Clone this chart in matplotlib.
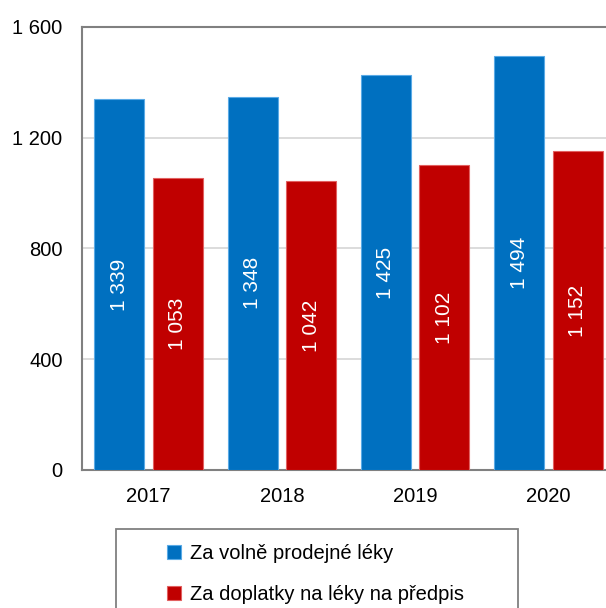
import numpy as np
import matplotlib.pyplot as plt
from matplotlib.patches import Rectangle

plt.rcParams['font.family'] = ['Liberation Sans', 'DejaVu Sans']

years = ['2017', '2018', '2019', '2020']
otc = [1339, 1348, 1425, 1494]          # Za volně prodejné léky
copay = [1053, 1042, 1102, 1152]        # Za doplatky na léky na předpis
series_names = ['Za volně prodejné léky', 'Za doplatky na léky na předpis']
yticks = [0, 400, 800, 1200, 1600]

def fmt(v):
    # czech style thousands separator (space)
    return '{:,}'.format(v).replace(',', ' ')

fig = plt.figure(figsize=(6.06, 6.08), dpi=100)
ax = fig.add_axes([0.1353, 0.2270, 0.8795, 0.7286])

x = np.arange(len(years))
w = 0.375
off = 0.22
b1 = ax.bar(x - off, otc, w, color='#0070C0', edgecolor='#5aaae6', linewidth=0.8, zorder=3)
b2 = ax.bar(x + off, copay, w, color='#C00000', edgecolor='#e26060', linewidth=0.8, zorder=3)

for bars, vals in [(b1, otc), (b2, copay)]:
    for r, v in zip(bars, vals):
        ax.text(r.get_x() + r.get_width() / 2, v / 2, fmt(v), rotation=90,
                ha='center', va='center', color='white', fontsize=15, zorder=4)

ax.set_xlim(-0.5, 3.5)
ax.set_ylim(0, 1600)
ax.set_yticks(yticks)
ax.set_yticklabels([fmt(t) for t in yticks])
ax.set_xticks(x)
ax.set_xticklabels(years)
ax.tick_params(axis='y', length=0, pad=14, labelsize=14.5)
ax.tick_params(axis='x', length=0, pad=12, labelsize=14.5)
ax.yaxis.grid(True, color='#d9d9d9', linewidth=1.3, zorder=0)
ax.set_axisbelow(True)
for s in ['left', 'bottom', 'top', 'right']:
    ax.spines[s].set_color('#808080')
    ax.spines[s].set_linewidth(1.5)

# legend frame (extends below the picture)
fig.patches.append(Rectangle((116 / 606, -0.05), (518 - 116) / 606, 1 - 529 / 608 + 0.05,
                             transform=fig.transFigure, facecolor='white',
                             edgecolor='#808080', linewidth=1.3))
leg = fig.legend([b1, b2], series_names, loc='upper left',
                 bbox_to_anchor=(149 / 606, 1 - 526 / 608), frameon=False,
                 fontsize=14.5, handlelength=0.7, handleheight=0.7,
                 handletextpad=0.45, labelspacing=1.1)

fig.savefig('out.png', dpi=100)
